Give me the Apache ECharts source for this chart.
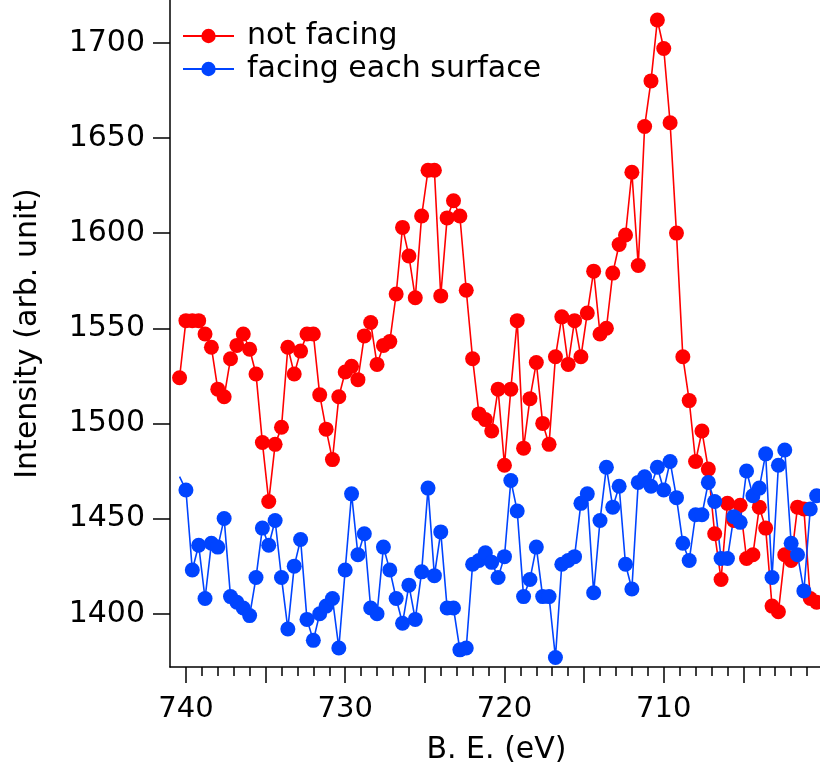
<!DOCTYPE html>
<html>
<head>
<meta charset="utf-8">
<script src="https://cdn.jsdelivr.net/npm/echarts@6/dist/echarts.min.js"></script>
<style>
  html, body { margin: 0; padding: 0; background: #ffffff; }
  #chart { width: 820px; height: 769px; }
</style>
</head>
<body>
<div id="chart"></div>
<script>
// Binding energy grid (eV), 0.4 eV steps
const bindingEnergy = [
  740.4, 740.0, 739.6, 739.2, 738.8, 738.4, 738.0, 737.6, 737.2, 736.8,
  736.4, 736.0, 735.6, 735.2, 734.8, 734.4, 734.0, 733.6, 733.2, 732.8,
  732.4, 732.0, 731.6, 731.2, 730.8, 730.4, 730.0, 729.6, 729.2, 728.8,
  728.4, 728.0, 727.6, 727.2, 726.8, 726.4, 726.0, 725.6, 725.2, 724.8,
  724.4, 724.0, 723.6, 723.2, 722.8, 722.4, 722.0, 721.6, 721.2, 720.8,
  720.4, 720.0, 719.6, 719.2, 718.8, 718.4, 718.0, 717.6, 717.2, 716.8,
  716.4, 716.0, 715.6, 715.2, 714.8, 714.4, 714.0, 713.6, 713.2, 712.8,
  712.4, 712.0, 711.6, 711.2, 710.8, 710.4, 710.0, 709.6, 709.2, 708.8,
  708.4, 708.0, 707.6, 707.2, 706.8, 706.4, 706.0, 705.6, 705.2, 704.8,
  704.4, 704.0, 703.6, 703.2, 702.8, 702.4, 702.0, 701.6, 701.2, 700.8,
  700.4
];

// Intensity, "not facing"
const notFacing = [
  1524, 1554, 1554, 1554, 1547, 1540, 1518, 1514, 1534, 1541,
  1547, 1539, 1526, 1490, 1459, 1489, 1498, 1540, 1526, 1538,
  1547, 1547, 1515, 1497, 1481, 1514, 1527, 1530, 1523, 1546,
  1553, 1531, 1541, 1543, 1568, 1603, 1588, 1566, 1609, 1633,
  1633, 1567, 1608, 1617, 1609, 1570, 1534, 1505, 1502, 1496,
  1518, 1478, 1518, 1554, 1487, 1513, 1532, 1500, 1489, 1535,
  1556, 1531, 1554, 1535, 1558, 1580, 1547, 1550, 1579, 1594,
  1599, 1632, 1583, 1656, 1680, 1712, 1697, 1658, 1600, 1535,
  1512, 1480, 1496, 1476, 1442, 1418, 1458, 1449, 1457, 1429,
  1431, 1456, 1445, 1404, 1401, 1431, 1428, 1456, 1455, 1408,
  1406
];

// Intensity, "facing each surface"
const facingEachSurface = [
  1472, 1465, 1423, 1436, 1408, 1437, 1435, 1450, 1409, 1406,
  1403, 1399, 1419, 1445, 1436, 1449, 1419, 1392, 1425, 1439,
  1397, 1386, 1400, 1404, 1408, 1382, 1423, 1463, 1431, 1442,
  1403, 1400, 1435, 1423, 1408, 1395, 1415, 1397, 1422, 1466,
  1420, 1443, 1403, 1403, 1381, 1382, 1426, 1428, 1432, 1427,
  1419, 1430, 1470, 1454, 1409, 1418, 1435, 1409, 1409, 1377,
  1426, 1428, 1430, 1458, 1463, 1411, 1449, 1477, 1456, 1467,
  1426, 1413, 1469, 1472, 1467, 1477, 1465, 1480, 1461, 1437,
  1428, 1452, 1452, 1469, 1459, 1429, 1429, 1451, 1448, 1475,
  1462, 1466, 1484, 1419, 1478, 1486, 1437, 1431, 1412, 1455,
  1462
];

const xMajorTicks = [700, 705, 710, 715, 720, 725, 730, 735, 740];
const xTickLabels = [710, 720, 730, 740];
const yTickLabels = [1400, 1450, 1500, 1550, 1600, 1650, 1700];

const redData = bindingEnergy.map((e, i) => [e, notFacing[i]]);
const blueData = bindingEnergy.map((e, i) => {
  // the first blue sample has no marker, only its connecting segment
  return i === 0 ? { value: [e, facingEachSurface[i]], symbol: 'none' } : [e, facingEachSurface[i]];
});

const FONT = 'DejaVu Sans';
const axisLineStyle = { color: '#000', width: 1.5 };
const plain = v => String(v);

const chart = echarts.init(document.getElementById('chart'), null, { renderer: 'canvas' });
chart.setOption({
  animation: false,
  backgroundColor: '#ffffff',
  grid: { left: 170, top: 0, width: 653, height: 667, containLabel: false, outerBoundsMode: 'none' },
  legend: {
    left: 182,
    top: 21,
    orient: 'vertical',
    padding: 0,
    itemGap: 3,
    itemWidth: 51,
    itemHeight: 18,
    textStyle: { fontFamily: FONT, fontSize: 30, color: '#000', lineHeight: 30, padding: [0, 0, 0, 8] },
    data: ['not facing', 'facing each surface']
  },
  xAxis: {
    type: 'value',
    inverse: true,
    min: 700,
    max: 741,
    interval: 10,
    name: 'B. E. (eV)',
    nameLocation: 'middle',
    nameGap: 68,
    nameTextStyle: { fontFamily: FONT, fontSize: 30, color: '#000' },
    axisLine: { show: true, onZero: false, lineStyle: axisLineStyle },
    axisTick: { show: true, inside: false, length: 16, lineStyle: axisLineStyle, customValues: xMajorTicks },
    minorTick: { show: true, splitNumber: 10, length: 9, lineStyle: axisLineStyle },
    axisLabel: { show: true, margin: 28, fontFamily: FONT, fontSize: 29, color: '#000', customValues: xTickLabels, formatter: plain },
    splitLine: { show: false },
    minorSplitLine: { show: false }
  },
  yAxis: {
    type: 'value',
    min: 1372,
    max: 1722.5,
    name: 'Intensity (arb. unit)',
    nameLocation: 'middle',
    nameGap: 127,
    nameTextStyle: { fontFamily: FONT, fontSize: 30, color: '#000' },
    axisLine: { show: true, onZero: false, lineStyle: axisLineStyle },
    axisTick: { show: true, inside: false, length: 17, lineStyle: axisLineStyle, customValues: yTickLabels },
    axisLabel: { show: true, margin: 25, fontFamily: FONT, fontSize: 30, color: '#000', customValues: yTickLabels, formatter: plain },
    splitLine: { show: false }
  },
  series: [
    {
      name: 'not facing',
      type: 'line',
      data: redData,
      symbol: 'circle',
      symbolSize: 15,
      showAllSymbol: true,
      clip: true,
      itemStyle: { color: '#ff0000' },
      lineStyle: { color: '#ff0000', width: 1.6 }
    },
    {
      name: 'facing each surface',
      type: 'line',
      data: blueData,
      symbol: 'circle',
      symbolSize: 15,
      showAllSymbol: true,
      clip: true,
      itemStyle: { color: '#0044ff' },
      lineStyle: { color: '#0044ff', width: 1.6 }
    }
  ]
});
</script>
</body>
</html>
